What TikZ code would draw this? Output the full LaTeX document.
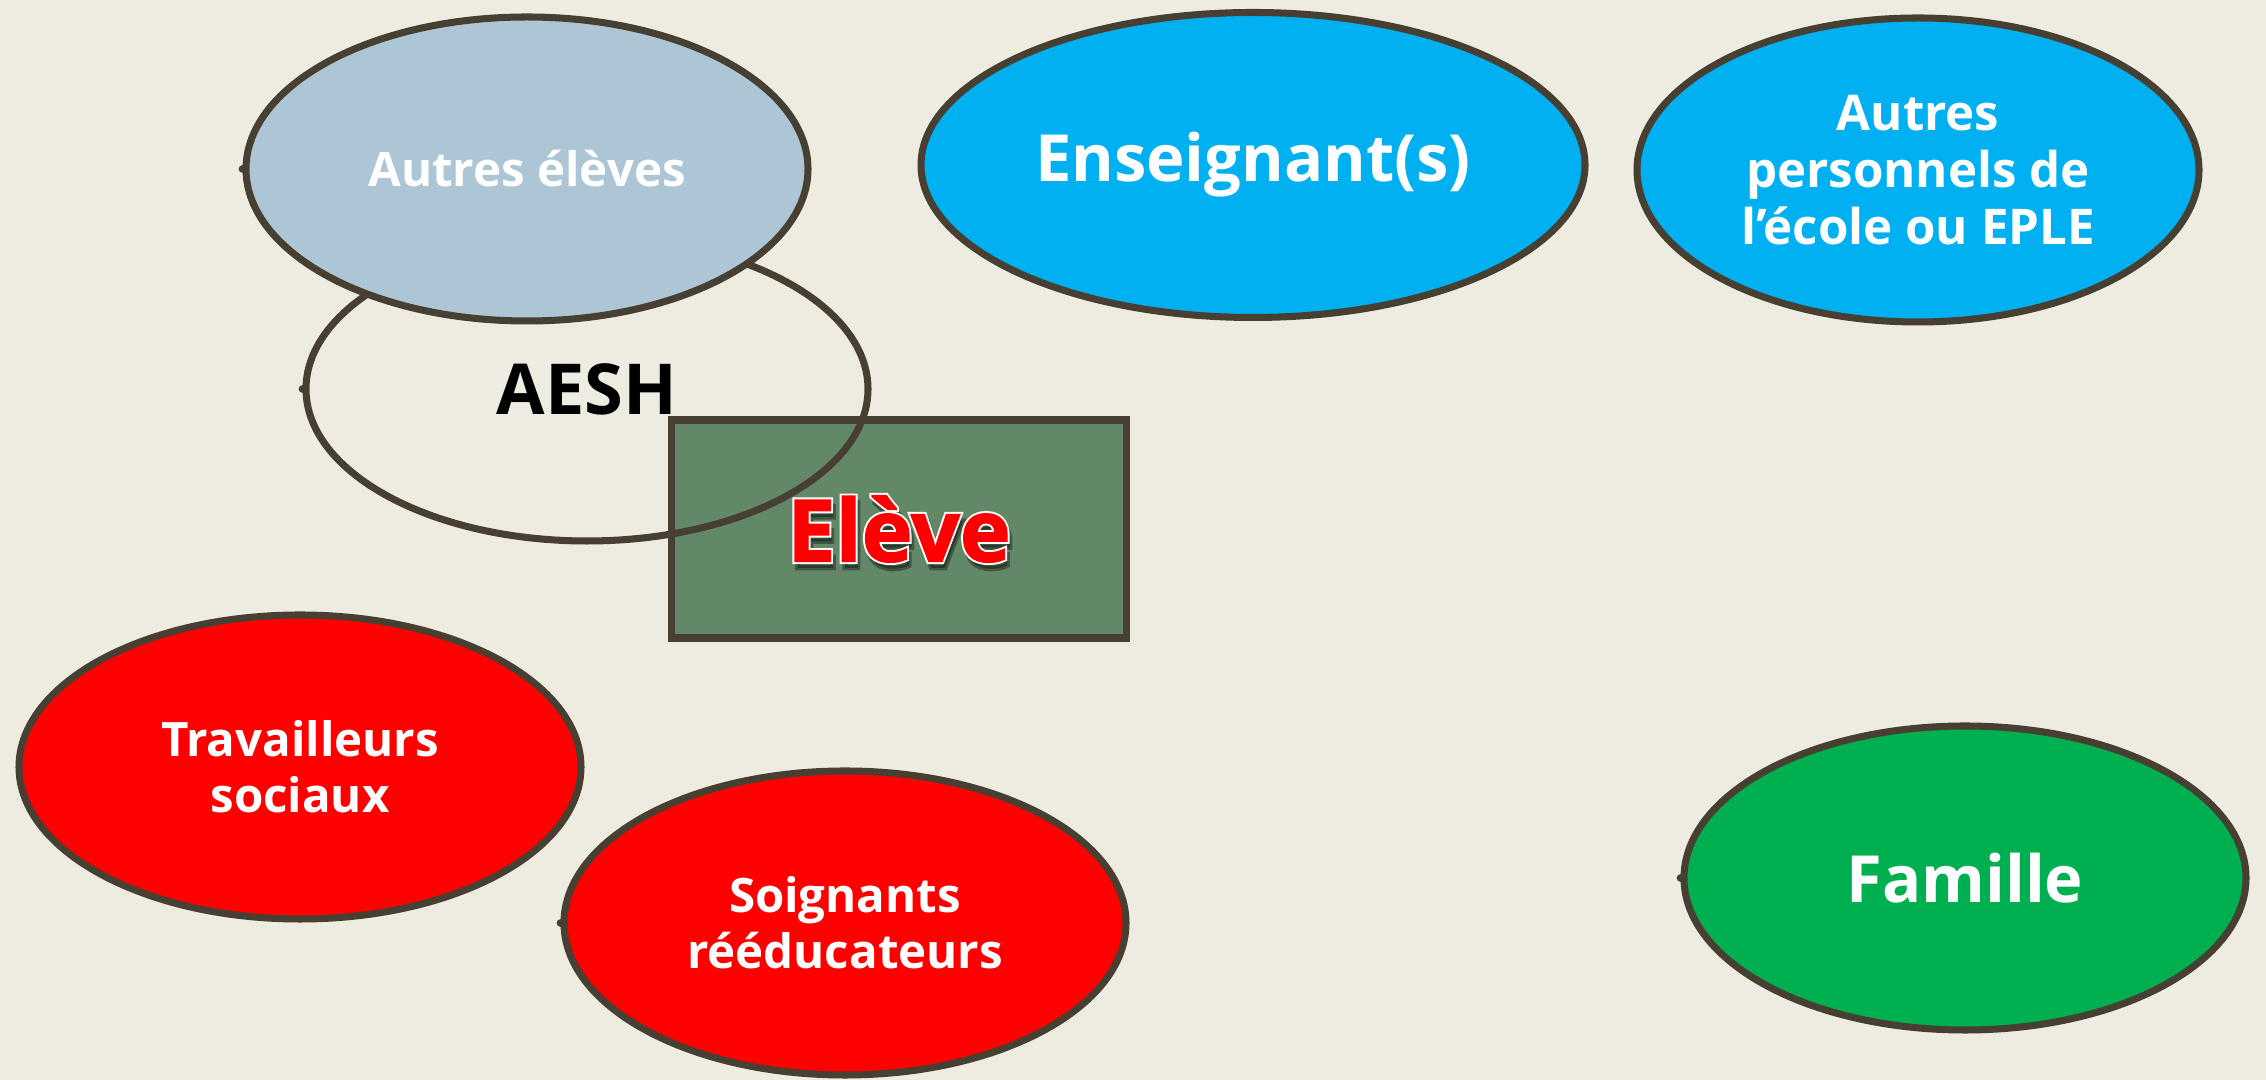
\documentclass[tikz,border=0pt]{standalone}
\usepackage{fontspec}
\setmainfont{Open Sans}
\usetikzlibrary{shapes.geometric}

\definecolor{fond}{HTML}{EEECE1}
\definecolor{trait}{HTML}{473F31}
\definecolor{bleugris}{HTML}{ADC6D5}
\definecolor{bleu}{HTML}{00B0F0}
\definecolor{rouge}{HTML}{FF0000}
\definecolor{vert}{HTML}{00B050}
\definecolor{sauge}{HTML}{638868}

\newfontfamily\elevefont[FakeBold=1.5]{Open Sans Bold}
\newfontfamily\elevecontour[FakeBold=6]{Open Sans Bold}

\tikzset{
    acteur/.style={ellipse, draw=trait, line width=2pt, inner sep=0pt,
        minimum width=5.62cm, minimum height=3.04cm, align=center,
        text=white, font=\bfseries\fontsize{13.5}{16}\selectfont},
    grand texte/.style={font=\bfseries\fontsize{18.5}{22}\selectfont},
    eleve box/.style={rectangle, draw=trait, fill=sauge, line width=2pt,
        minimum width=4.55cm, minimum height=2.18cm},
    eleve txt/.style={text=rouge, font=\elevefont\fontsize{24.5}{28}\selectfont},
    eleve bord/.style={font=\elevecontour\fontsize{24.5}{28}\selectfont}
}

\begin{document}
\begin{tikzpicture}
    % Fond
    \fill[fond] (0,0) rectangle (22.66,10.8);
    \useasboundingbox (0,0) rectangle (22.66,10.8);

    % Eleve au centre
    \node[eleve box] (eleve) at (8.99,5.51) {};

    % Les acteurs autour
    \node[acteur, text=black, font=\bfseries\fontsize{20}{24}\selectfont] (aesh) at (5.87,6.91) {AESH};
    \node[acteur, fill=bleugris] (autres) at (5.27,9.11) {Autres élèves};
    \node[acteur, grand texte, fill=bleu, minimum width=6.64cm, minimum height=3.05cm] (enseignant) at (12.53,9.15) {Enseignant(s)};
    \node[acteur, fill=bleu, font=\bfseries\fontsize{14}{16.2}\selectfont] (personnels) at (19.18,9.10) {Autres\\personnels de\\l’école ou EPLE};
    \node[acteur, fill=rouge] (travailleurs) at (3.00,3.13) {Travailleurs\\sociaux};
    \node[acteur, fill=rouge] (soignants) at (8.45,1.57) {Soignants\\rééducateurs};
    \node[acteur, grand texte, fill=vert] (famille) at (19.65,2.02) {Famille};

    % Points d'attache
    \foreach \n in {autres, aesh, soignants, famille}
        \fill[trait] (\n.west) circle (1.1pt);

    % Texte Eleve : ombre, contour blanc, puis rouge
    \node[eleve bord, text=black, opacity=0.35, xshift=0.8pt, yshift=-1.8pt] (eleveombre) at (eleve) {Elève};
    \node[eleve bord, text=white] (elevebord) at (eleve) {Elève};
    \node[eleve txt] (elevetexte) at (eleve) {Elève};
\end{tikzpicture}
\end{document}
